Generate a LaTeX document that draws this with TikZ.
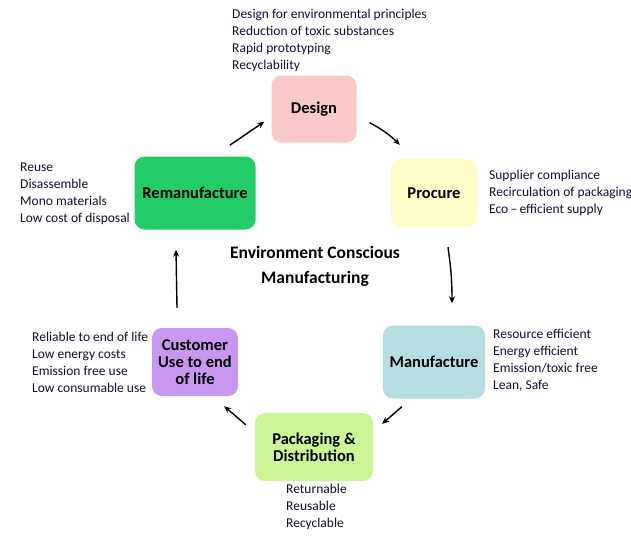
\documentclass[tikz,border=0pt]{standalone}
\usepackage{fontspec}
\setmainfont{Carlito}
\usepackage{tikz}
\usetikzlibrary{calc, positioning, arrows.meta}

\definecolor{designpink}{RGB}{250,200,200}
\definecolor{procureyellow}{RGB}{255,254,200}
\definecolor{remangreen}{RGB}{34,204,102}
\definecolor{custlilac}{RGB}{200,152,240}
\definecolor{manufteal}{RGB}{180,222,224}
\definecolor{packgreen}{RGB}{204,245,150}
\definecolor{listink}{RGB}{16,16,48}

\begin{document}
\begin{tikzpicture}[x=1pt,y=-1pt,on grid,>={Stealth[length=7pt,width=6pt]},
    stage/.style={rounded corners=10pt,align=center,inner sep=2pt,
      font=\fontsize{16.5}{17}\selectfont\bfseries},
    notes/.style={anchor=base west,align=left,inner sep=0pt,text=listink,
      font=\fontsize{13.5}{16.8}\selectfont},
    cycle/.style={->,line width=1.4pt}]

      \useasboundingbox (0,0) rectangle (631,535);

      \node[stage,fill=designpink,minimum width=85pt,minimum height=67pt]  (design) at (314,109) {Design};
      \node[stage,fill=procureyellow,minimum width=86pt,minimum height=68pt] (procure) [below right=84pt and 120pt of design] {Procure};
      \node[stage,fill=remangreen,minimum width=121pt,minimum height=73pt] (reman) [below left=84pt and 119pt of design] {Remanufacture};
      \node[stage,fill=manufteal,minimum width=102pt,minimum height=73pt] (manuf) [below=169pt of procure] {Manufacture};
      \node[stage,fill=custlilac,minimum width=86pt,minimum height=68pt] (cust) [below=169pt of reman] {Customer\\Use to end\\of life};
      \node[stage,fill=packgreen,minimum width=118pt,minimum height=68pt] (pack) [below=338pt of design] {Packaging \&\\Distribution};

      \node[anchor=base,align=center,font=\fontsize{17.5}{25}\selectfont\bfseries] (ecm) at (315,283)
        {Environment Conscious\\Manufacturing};

      \node[notes] (designnotes) at (232,69) {Design for environmental principles\\Reduction of toxic substances\\Rapid prototyping\\Recyclability};
      \node[notes] (procurenotes) at (489,213) {Supplier compliance\\Recirculation of packaging\\Eco\,--\,efficient supply};
      \node[notes] (remannotes) at (20,222) {Reuse\\Disassemble\\Mono materials\\Low cost of disposal};
      \node[notes] (manufnotes) at (493,389) {Resource efficient\\Energy efficient\\Emission/toxic free\\Lean, Safe};
      \node[notes] (custnotes) at (32,392) {Reliable to end of life\\Low energy costs\\Emission free use\\Low consumable use};
      \node[notes] (packnotes) at (286,527) {Returnable\\Reusable\\Recyclable};

      \draw[cycle] ($(reman.north east)+(-26,-11)$) -- ($(design.south west)+(-7,-21)$);
      \draw[cycle] ($(design.south east)+(13,-20)$) to[bend left=8] ($(procure.north west)+(9,-14)$);
      \draw[cycle] ($(procure.south)+(14,20)$) to[bend left=4] ($(manuf.north)+(18,-22)$);
      \draw[cycle] ($(manuf.south west)+(19,8)$) -- ($(pack.north east)+(9,11)$);
      \draw[cycle] ($(pack.north west)+(-9,12)$) -- ($(cust.south east)+(-14,10)$);
      \draw[cycle] ($(cust.north)+(-18,-20)$) -- ($(reman.south)+(-19,20)$);
    \end{tikzpicture}
\end{document}
